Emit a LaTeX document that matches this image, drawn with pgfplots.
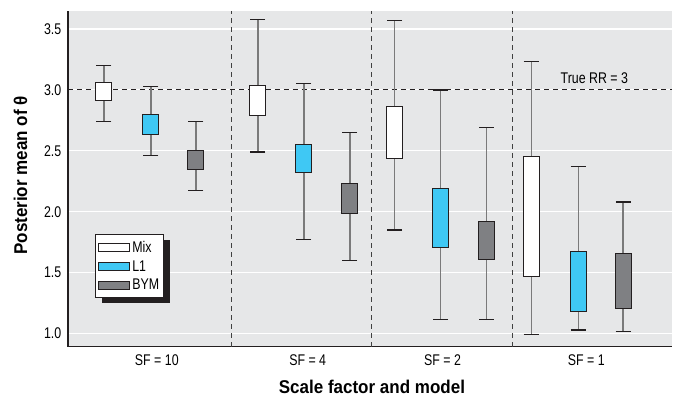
\documentclass[border=0pt]{standalone}
\usepackage{pgfplots}
\pgfplotsset{compat=1.18}
\usepackage{pgfplotstable}
\usepgfplotslibrary{statistics}
\usepackage{fontspec}
\setmainfont{Liberation Sans}[FakeStretch=0.8]
\newfontfamily\labelfont{Liberation Sans}[FakeStretch=0.92]
\definecolor{bggray}{HTML}{E6E7E8}
\definecolor{lone}{HTML}{3FC8F4}
\definecolor{bym}{HTML}{7F8083}
\definecolor{edge}{HTML}{231F20}
\definecolor{whisk}{HTML}{7A7A7A}
\newcommand\tickfont{\fontsize{15.5bp}{18bp}\selectfont}

% one table per model: draw position (px), lower whisker, lower quartile, upper quartile, upper whisker
\pgfplotstableread{
pos lw lq uq uw
104 2.74 2.91 3.06 3.20
258 2.49 2.79 3.04 3.58
395 1.85 2.44 2.86 3.57
532 0.99 1.465 2.45 3.235
}\mixdata
\pgfplotstableread{
pos lw lq uq uw
151 2.46 2.635 2.795 3.03
304 1.77 2.32 2.55 3.05
441 1.115 1.705 2.19 3.00
579 1.03 1.18 1.67 2.37
}\lonedata
\pgfplotstableread{
pos lw lq uq uw
196 2.175 2.345 2.505 2.74
350 1.60 1.985 2.235 2.65
487 1.115 1.605 1.92 2.69
624 1.02 1.21 1.66 2.08
}\bymdata

\newcommand\bx[3]{%
  \pgfplotstablegetelem{#2}{pos}\of#1\let\bxpos\pgfplotsretval
  \pgfplotstablegetelem{#2}{lw}\of#1\let\bxlw\pgfplotsretval
  \pgfplotstablegetelem{#2}{lq}\of#1\let\bxlq\pgfplotsretval
  \pgfplotstablegetelem{#2}{uq}\of#1\let\bxuq\pgfplotsretval
  \pgfplotstablegetelem{#2}{uw}\of#1\let\bxuw\pgfplotsretval
  \edef\bxcmd{\noexpand\addplot[forget plot, fill=#3, draw=edge, line width=1bp,
    boxplot prepared={draw position=\bxpos, lower whisker=\bxlw,
      lower quartile=\bxlq, median=\bxlq, upper quartile=\bxuq,
      upper whisker=\bxuw}] coordinates {};}%
  \bxcmd
}

\begin{document}
\begin{tikzpicture}
\path (0,0) rectangle (673bp,398bp);
\begin{axis}[
  at={(68bp,51bp)}, anchor=south west,
  scale only axis, width=605bp, height=336bp,
  xmin=68, xmax=673, ymin=0.893, ymax=3.648,
  axis background/.style={fill=bggray},
  axis x line*=bottom, axis y line*=left,
  axis line style={-, edge, line width=1.4bp},
  major tick length=0pt,
  ymajorgrids, grid style={white, line width=1.1bp},
  xtick={157,308,443,587},
  xticklabels={SF = 10, SF = 4, SF = 2, SF = 1},
  ytick={1,1.5,2,2.5,3,3.5},
  yticklabel style={inner sep=0pt, xshift=-6.5bp,
    /pgf/number format/fixed, /pgf/number format/fixed zerofill,
    /pgf/number format/precision=1, /pgf/number format/assume math mode=true},
  tick label style={font=\tickfont},
  xticklabel style={anchor=center, yshift=-14bp},
  xlabel={Scale factor and model},
  ylabel={Posterior mean of θ},
  label style={font=\labelfont\bfseries\fontsize{18.5bp}{21bp}\selectfont},
  xlabel style={at={(axis description cs:0.503,-0.1205)}, anchor=center},
  ylabel style={at={(axis description cs:-0.0785,0.51)}, anchor=center},
  boxplot/draw direction=y,
  boxplot/box extend=16,
  boxplot/whisker extend=15,
  boxplot/draw/median/.code={},
  boxplot/draw/lower whisker/.code={%
    \draw[whisk, line width=1.8bp] (boxplot cs:\pgfplotsboxplotvalue{lower whisker}) -- (boxplot cs:\pgfplotsboxplotvalue{lower quartile});
    \draw[edge, line width=1.3bp] (boxplot whisker cs:\pgfplotsboxplotvalue{lower whisker},0) -- (boxplot whisker cs:\pgfplotsboxplotvalue{lower whisker},1);
  },
  boxplot/draw/upper whisker/.code={%
    \draw[whisk, line width=1.8bp] (boxplot cs:\pgfplotsboxplotvalue{upper whisker}) -- (boxplot cs:\pgfplotsboxplotvalue{upper quartile});
    \draw[edge, line width=1.3bp] (boxplot whisker cs:\pgfplotsboxplotvalue{upper whisker},0) -- (boxplot whisker cs:\pgfplotsboxplotvalue{upper whisker},1);
  },
  legend image code/.code={\draw[#1] (0bp,-4bp) rectangle (31bp,4bp);},
  legend cell align=left,
  legend style={at={(axis cs:95,1.814)}, anchor=north west,
    draw=edge, line width=1bp, fill=white,
    font=\tickfont, inner xsep=3bp, inner ysep=5.5bp, row sep=4.5bp, column sep=1bp,
    nodes={inner sep=1bp}},
]
% reference lines
\addplot[forget plot, edge, line width=1bp, dash pattern=on 5bp off 4bp] coordinates {(68,3) (673,3)};
\addplot[forget plot, black!75, line width=1bp, dash pattern=on 5bp off 4bp] coordinates {(232,0.893) (232,3.648)};
\addplot[forget plot, black!75, line width=1bp, dash pattern=on 5bp off 4bp] coordinates {(372,0.893) (372,3.648)};
\addplot[forget plot, black!75, line width=1bp, dash pattern=on 5bp off 4bp] coordinates {(513,0.893) (513,3.648)};

\bx{\mixdata}{0}{white}
\bx{\mixdata}{1}{white}
\bx{\mixdata}{2}{white}
\bx{\mixdata}{3}{white}
\bx{\lonedata}{0}{lone}
\bx{\lonedata}{1}{lone}
\bx{\lonedata}{2}{lone}
\bx{\lonedata}{3}{lone}
\bx{\bymdata}{0}{bym}
\bx{\bymdata}{1}{bym}
\bx{\bymdata}{2}{bym}
\bx{\bymdata}{3}{bym}

\node[font=\tickfont] at (axis cs:595,3.10) {True RR = 3};
% legend drop shadow (drawn before the legend box)
\fill[edge] (axis cs:102,1.255) rectangle (axis cs:170,1.765);

\addlegendimage{fill=white, draw=edge, line width=1bp}
\addlegendentry{Mix}
\addlegendimage{fill=lone, draw=edge, line width=1bp}
\addlegendentry{L1}
\addlegendimage{fill=bym, draw=edge, line width=1bp}
\addlegendentry{BYM}
\end{axis}
\end{tikzpicture}
\end{document}
